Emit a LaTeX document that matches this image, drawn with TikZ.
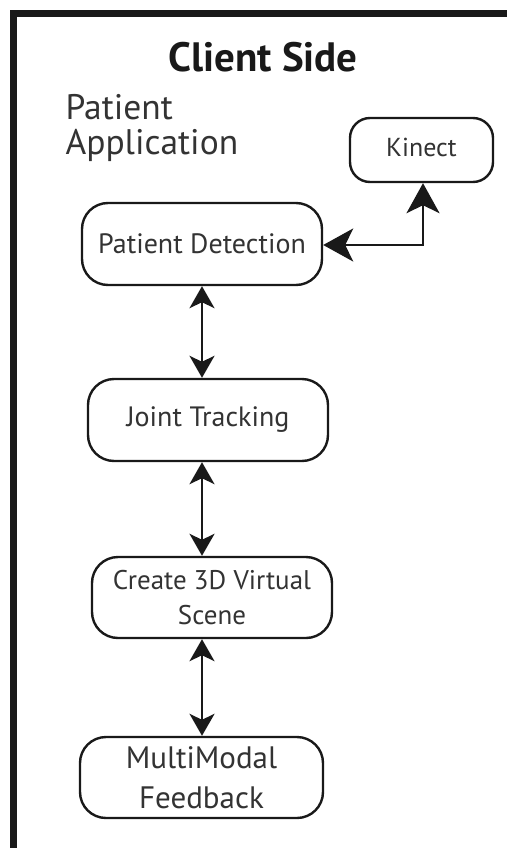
\documentclass[tikz,border=0pt]{standalone}
\usepackage{fontspec}
\setmainfont{PT Sans}
\usetikzlibrary{arrows.meta,calc}
\begin{document}
\begin{tikzpicture}[x=1pt,y=-1pt,
  stepbox/.style={draw=black!90, line width=2.4pt, rounded corners=26pt,
    minimum width=240pt, minimum height=82pt, inner sep=0pt,
    align=center, text=black!80},
  link/.style={line width=2.4pt, draw=black!90,
    {Stealth[length=22pt,width=25pt,inset=6pt]}-{Stealth[length=22pt,width=25pt,inset=6pt]}},
  biglink/.style={line width=2.4pt, draw=black!90,
    {Stealth[length=30pt,width=33pt,inset=8pt]}-{Stealth[length=30pt,width=33pt,inset=8pt]}}
]
  % page and frame
  \useasboundingbox (0,0) rectangle (507,848);
  \fill[white] (0,0) rectangle (507,848);
  \draw[line width=7pt, black!90] (13.5,848) -- (13.5,13.5) -- (507,13.5);

  % headings
  \node[font=\bfseries\fontsize{41}{44}\selectfont, text=black!90] (title) at (263,57) {Client Side};
  \node[anchor=west, align=left, font=\fontsize{35.5}{35}\selectfont, text=black!80] (app) at (62,128)
    {Patient\\Application};

  % processing steps
  \node[stepbox, minimum width=143pt, minimum height=64pt, rounded corners=20pt,
        font=\fontsize{26}{30}\selectfont] (kinect) at (421.5,150) {\raisebox{6pt}{Kinect}};
  \node[stepbox, font=\fontsize{28}{32}\selectfont] (detect) at (202,244) {Patient Detection};
  \node[stepbox, font=\fontsize{28}{32}\selectfont] (joint) at (208,420) {Joint Tracking};
  \node[stepbox, minimum height=81pt, font=\fontsize{27}{35}\selectfont] (scene) at (212,597.5)
    {Create 3D Virtual\\Scene};
  \node[stepbox, minimum width=243pt, minimum height=81pt, font=\fontsize{31}{40}\selectfont] (feedback) at (201.5,777.5)
    {MultiModal\\Feedback};

  % connectors
  \coordinate (col) at (202,0);
  \coordinate (corner) at (423,245);
  \draw[biglink] (kinect.south -| corner) |- (detect.east |- corner);
  \draw[link] (detect.south -| col) -- (joint.north -| col);
  \draw[link] (joint.south -| col) -- (scene.north -| col);
  \draw[link] (scene.south -| col) -- (feedback.north -| col);
\end{tikzpicture}
\end{document}
